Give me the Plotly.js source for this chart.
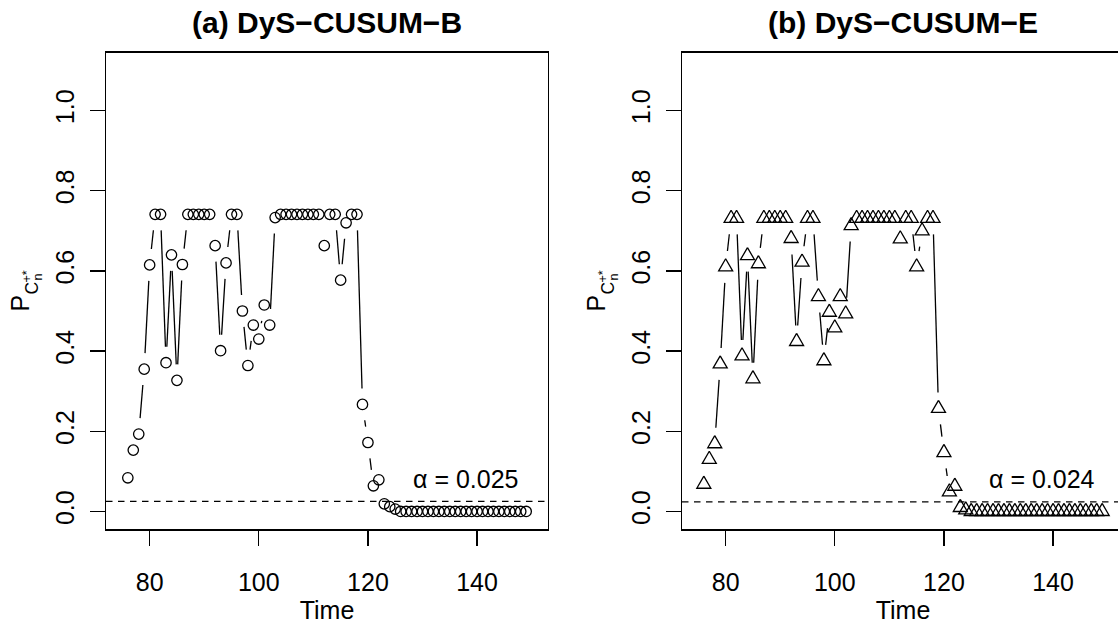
<!DOCTYPE html>
<html><head><meta charset="utf-8">
<script src="https://cdn.plot.ly/plotly-3.0.1.min.js"></script>
<style>html,body{margin:0;padding:0;overflow:hidden;background:#fff}#chart{width:1152px;height:626px}</style>
</head><body><div id="chart"></div>
<script>
// ---------- data ----------
const time = [76,77,78,79,80,81,82,83,84,85,86,87,88,89,90,91,92,93,94,95,96,97,98,99,100,
  101,102,103,104,105,106,107,108,109,110,111,112,113,114,115,116,117,118,119,120,121,122,123,124,125,
  126,127,128,129,130,131,132,133,134,135,136,137,138,139,140,141,142,143,144,145,146,147,148,149];
const probB = [0.084,0.153,0.193,0.355,0.615,0.741,0.741,0.371,0.640,0.327,0.616,0.741,0.741,0.741,0.741,0.741,
  0.663,0.401,0.620,0.741,0.741,0.500,0.364,0.465,0.430,0.515,0.465,0.733,
  0.741,0.741,0.741,0.741,0.741,0.741,0.741,0.741,0.663,0.741,0.741,0.577,0.720,0.741,0.741,
  0.267,0.172,0.064,0.079,0.019,0.012,0.006,
  0,0,0,0,0,0,0,0,0,0,0,0,0,0,0,0,0,0,0,0,0,0,0,0];
const probE = [0.068,0.130,0.169,0.368,0.610,0.731,0.731,0.388,0.638,0.331,0.618,0.731,0.731,0.731,0.731,0.731,
  0.681,0.424,0.622,0.731,0.731,0.536,0.376,0.497,0.458,0.536,0.493,0.713,
  0.731,0.731,0.731,0.731,0.731,0.731,0.731,0.731,0.680,0.731,0.731,0.610,0.700,0.731,0.731,
  0.257,0.147,0.049,0.063,0.010,0.004,0,
  0,0,0,0,0,0,0,0,0,0,0,0,0,0,0,0,0,0,0,0,0,0,0,0];
const alphaB = 0.025, alphaE = 0.024;
const alphaLabels = ["\u03b1 = 0.025", "\u03b1 = 0.024"];
const alphaPos = [138, 0.082];
const xTicks = [80,100,120,140];
const yTicks = [0,0.2,0.4,0.6,0.8,1.0];
const yTickText = ["0.0","0.2","0.4","0.6","0.8","1.0"];
const panelTitles = ["(a) DyS\u2212CUSUM\u2212B", "(b) DyS\u2212CUSUM\u2212E"];
const xTitle = "Time";

// ---------- geometry ----------
const W = 1152, H = 626;
const boxL = [106, 682], boxW = 442, boxT = 52.8, boxB = 529.1;
const xr = [72, 153], yr = [-0.044, 1.144];
const kx = boxW / (xr[1] - xr[0]);
const ky = (boxB - boxT) / (yr[1] - yr[0]);
const GAP = 16;             // px gap of type="b" lines
const TRI = {top: 8.1, half: 7.0, base: 4.05}; // px
const FONT = "Liberation Sans, Arial, Helvetica, sans-serif";

function gapped(xs, ys) {
  const X = [], Y = [];
  for (let i = 0; i < xs.length - 1; i++) {
    const ddx = xs[i+1] - xs[i], ddy = ys[i+1] - ys[i];
    const len = Math.hypot(ddx * kx, ddy * ky);
    if (len <= 2 * GAP) continue;
    const f = GAP / len;
    X.push(xs[i] + ddx * f, xs[i+1] - ddx * f, null);
    Y.push(ys[i] + ddy * f, ys[i+1] - ddy * f, null);
  }
  return {X, Y};
}
function triangles(xs, ys) {
  const X = [], Y = [];
  for (let i = 0; i < xs.length; i++) {
    const x = xs[i], y = ys[i];
    X.push(x, x + TRI.half / kx, x - TRI.half / kx, x, null);
    Y.push(y + TRI.top / ky, y - TRI.base / ky, y - TRI.base / ky, y + TRI.top / ky, null);
  }
  return {X, Y};
}

const segB = gapped(time, probB), segE = gapped(time, probE), triE = triangles(time, probE);
const lineStyle = {color: '#000', width: 1.3};

const data = [
  {x: segB.X, y: segB.Y, xaxis: 'x', yaxis: 'y', mode: 'lines', line: lineStyle, hoverinfo: 'skip'},
  {x: time, y: probB, xaxis: 'x', yaxis: 'y', mode: 'markers',
   marker: {symbol: 'circle-open', size: 10.4, color: '#000', line: {width: 1.3, color: '#000'}}},
  {x: segE.X, y: segE.Y, xaxis: 'x2', yaxis: 'y2', mode: 'lines', line: lineStyle, hoverinfo: 'skip'},
  {x: triE.X, y: triE.Y, xaxis: 'x2', yaxis: 'y2', mode: 'lines', line: {color: '#000', width: 1.3}}
];

function xAxis(i) {
  return {
    domain: [boxL[i] / W, (boxL[i] + boxW) / W], range: xr, anchor: i ? 'y2' : 'y',
    tickvals: xTicks, ticks: 'outside', ticklen: 15, tickwidth: 1.3, tickcolor: '#000',
    showline: true, mirror: true, linecolor: '#000', linewidth: 1.4,
    showgrid: false, zeroline: false, automargin: false,
    tickfont: {family: FONT, size: 25, color: '#000'}, ticklabelstandoff: 15,
    title: {text: xTitle, font: {family: FONT, size: 25, color: '#000'}, standoff: 7}
  };
}
function yAxis(i) {
  return {
    domain: [1 - boxB / H, 1 - boxT / H], range: yr, anchor: i ? 'x2' : 'x',
    tickvals: yTicks, ticktext: yTickText, ticks: 'outside', ticklen: 15, tickwidth: 1.3, tickcolor: '#000',
    tickangle: -90, showline: true, mirror: true, linecolor: '#000', linewidth: 1.4,
    showgrid: false, zeroline: false, automargin: false,
    tickfont: {family: FONT, size: 25, color: '#000'}, ticklabelstandoff: 6
  };
}

const annotations = [];
panelTitles.forEach((t, i) => annotations.push({
  text: '<b>' + t + '</b>', xref: 'paper', yref: 'paper', x: (boxL[i] + boxW / 2) / W, y: 1 - 22 / H,
  xanchor: 'center', yanchor: 'middle', showarrow: false, font: {family: FONT, size: 30, color: '#000'}
}));
alphaLabels.forEach((t, i) => annotations.push({
  text: t, xref: i ? 'x2' : 'x', yref: i ? 'y2' : 'y', x: alphaPos[0], y: alphaPos[1],
  xanchor: 'center', yanchor: 'middle', showarrow: false, font: {family: FONT, size: 25, color: '#000'}
}));
// rotated y-axis title  P_{C_n^{+*}}
const yTitleParts = [
  {t: 'P', dx: 19.5, py: 303, s: 25},
  {t: 'C', dx: 31, py: 288.5, s: 17.5},
  {t: '+*', dx: 26.5, py: 277, s: 12.5},
  {t: 'n', dx: 37.5, py: 277, s: 12.5}
];
[0, 1].forEach(i => yTitleParts.forEach(p => annotations.push({
  text: p.t, xref: 'paper', yref: 'paper', x: (boxL[i] - 106 + p.dx) / W, y: 1 - p.py / H,
  xanchor: 'center', yanchor: 'middle', textangle: -90, showarrow: false,
  font: {family: FONT, size: p.s, color: '#000'}
})));

const shapes = [
  {type: 'line', xref: 'x domain', yref: 'y', x0: 0, x1: 1, y0: alphaB, y1: alphaB,
   line: {color: '#000', width: 1.3, dash: '6.5px,5.5px'}},
  {type: 'line', xref: 'x2 domain', yref: 'y2', x0: 0, x1: 1, y0: alphaE, y1: alphaE,
   line: {color: '#000', width: 1.3, dash: '6.5px,5.5px'}}
];

const layout = {
  width: W, height: H, margin: {l: 0, r: 0, t: 0, b: 0},
  paper_bgcolor: '#fff', plot_bgcolor: '#fff', showlegend: false,
  font: {family: FONT, color: '#000'},
  xaxis: xAxis(0), yaxis: yAxis(0), xaxis2: xAxis(1), yaxis2: yAxis(1),
  annotations, shapes
};
Plotly.newPlot('chart', data, layout, {staticPlot: true, displayModeBar: false});
</script></body></html>
